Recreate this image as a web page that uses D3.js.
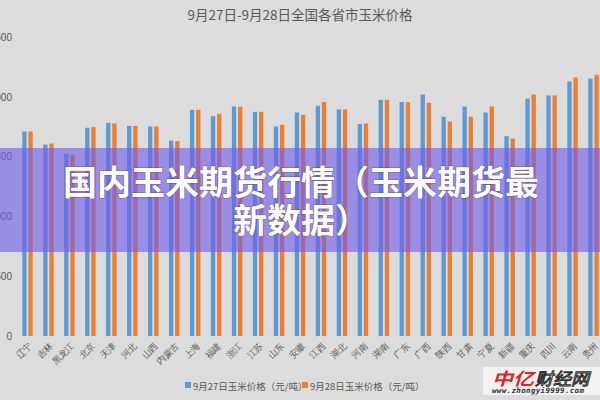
<!DOCTYPE html>
<html>
<head>
<meta charset="utf-8">
<script src="https://cdn.jsdelivr.net/npm/d3@7"></script>
<style>
  body { margin: 0; background: #dcdcdc; }
  svg { display: block; font-family: "Noto Sans CJK SC", "Noto Sans", sans-serif; }
</style>
</head>
<body>
<div id="chart"></div>
<script>
// provinces and prices (yuan / ton)
var provinces = ["辽宁", "吉林", "黑龙江", "北京", "天津", "河北", "山西", "内蒙古", "上海", "福建",
                 "浙江", "江苏", "山东", "安徽", "江西", "湖北", "河南", "湖南", "广东", "广西",
                 "陕西", "甘肃", "宁夏", "新疆", "重庆", "四川", "云南", "贵州"];
var price927 = [1710, 1600, 1523, 1741, 1782, 1757, 1752, 1634, 1891, 1838,
                1919, 1874, 1752, 1869, 1925, 1894, 1772, 1975, 1956, 2019,
                1833, 1919, 1869, 1671, 1986, 2011, 2128, 2153];
var price928 = [1710, 1609, 1515, 1746, 1777, 1757, 1752, 1629, 1891, 1858,
                1916, 1874, 1766, 1849, 1956, 1894, 1777, 1975, 1956, 1950,
                1793, 1833, 1919, 1651, 2019, 2011, 2162, 2184];
var seriesNames = ["9月27日玉米价格（元/吨）", "9月28日玉米价格（元/吨）"];
var seriesColors = ["#5b9bd5", "#ed7d31"];
var yTicks = [0, 500, 1000, 1500, 2000, 2500];

var W = 600, H = 400;
var svg = d3.select("#chart").append("svg")
    .attr("width", W)
    .attr("height", H);

svg.append("rect").attr("width", W).attr("height", H).attr("fill", "#dcdcdc");

// title
svg.append("text")
    .attr("x", 300).attr("y", 20)
    .attr("text-anchor", "middle")
    .attr("font-size", "13.5px")
    .attr("fill", "#595959")
    .text("9月27日-9月28日全国各省市玉米价格");

var x0 = d3.scaleBand().domain(provinces).range([17, 604]).paddingInner(0.5).paddingOuter(0.25);
var x1 = d3.scaleBand().domain([0, 1]).range([0, x0.bandwidth()]).paddingInner(0.3);
var y = d3.scaleLinear().domain([0, 2500]).range([336, 37]);

// y axis labels (no line, no grid)
var yAxis = d3.axisLeft(y).tickValues(yTicks).tickSize(0).tickPadding(0);
var gy = svg.append("g").attr("transform", "translate(12,0)").call(yAxis);
gy.select(".domain").remove();
gy.selectAll("text").attr("font-size", "10px").attr("fill", "#595959")
    .attr("font-family", "'Liberation Sans', sans-serif");

// bars
var rows = provinces.map(function (p, i) { return { name: p, vals: [price927[i], price928[i]] }; });
var groups = svg.selectAll("g.grp")
    .data(rows)
    .enter()
    .append("g")
    .attr("class", "grp")
    .attr("transform", function (d) { return "translate(" + x0(d.name) + ",0)"; });

groups.selectAll("rect")
    .data(function (d) { return d.vals; })
    .enter()
    .append("rect")
    .attr("x", function (d, i) { return x1(i); })
    .attr("y", function (d) { return y(d); })
    .attr("width", x1.bandwidth())
    .attr("height", function (d) { return y(0) - y(d); })
    .attr("fill", function (d, i) { return seriesColors[i]; });

// x labels, rotated
var xAxis = d3.axisBottom(x0).tickSize(0).tickPadding(0);
var gx = svg.append("g").attr("transform", "translate(3,344)").call(xAxis);
gx.select(".domain").remove();
gx.selectAll("text")
    .attr("font-size", "9px")
    .attr("fill", "#595959")
    .attr("text-anchor", "end")
    .attr("dy", "0.35em")
    .attr("transform", "rotate(-45)");

// legend
var legend = svg.append("g").attr("transform", "translate(185,386)");
var lg = legend.selectAll("g")
    .data(seriesNames)
    .enter()
    .append("g")
    .attr("transform", function (d, i) { return "translate(" + (i * 117) + ",0)"; });
lg.append("rect")
    .attr("x", 0).attr("y", -4)
    .attr("width", 6).attr("height", 6)
    .attr("fill", function (d, i) { return seriesColors[i]; });
lg.append("text")
    .attr("x", 8).attr("y", 3.5)
    .attr("font-size", "9.5px")
    .attr("fill", "#595959")
    .text(function (d) { return d; });

// banner overlay
svg.append("rect")
    .attr("x", 0).attr("y", 148)
    .attr("width", W).attr("height", 104)
    .attr("fill", "rgba(112, 92, 232, 0.62)");

var bannerLines = ["国内玉米期货行情（玉米期货最", "新数据）"];
svg.selectAll("text.banner")
    .data(bannerLines)
    .enter()
    .append("text")
    .attr("class", "banner")
    .attr("x", 301)
    .attr("y", function (d, i) { return 195 + i * 38; })
    .attr("text-anchor", "middle")
    .attr("font-size", "34px")
    .attr("font-weight", "bold")
    .attr("fill", "#ffffff")
    .attr("stroke", "rgba(60,40,90,0.4)")
    .attr("stroke-width", 1.2)
    .attr("paint-order", "stroke")
    .text(function (d) { return d; });

// watermark
var wm = svg.append("g");
wm.append("rect")
    .attr("x", 483).attr("y", 367)
    .attr("width", 117).attr("height", 28)
    .attr("fill", "#f2f2f2");
wm.append("text")
    .attr("x", 492).attr("y", 385)
    .attr("font-size", "17px")
    .attr("font-weight", "bold")
    .attr("font-style", "italic")
    .attr("fill", "#e0261f")
    .attr("textLength", 42)
    .attr("lengthAdjust", "spacingAndGlyphs")
    .text("中亿");
wm.append("text")
    .attr("x", 535).attr("y", 385)
    .attr("font-size", "17px")
    .attr("font-style", "italic")
    .attr("fill", "#ffffff")
    .attr("stroke", "#333333")
    .attr("stroke-width", 1)
    .attr("textLength", 54)
    .attr("lengthAdjust", "spacingAndGlyphs")
    .text("财经网");
wm.append("text")
    .attr("x", 492).attr("y", 393)
    .attr("font-size", "7.5px")
    .attr("font-weight", "bold")
    .attr("font-style", "italic")
    .attr("fill", "#333333")
    .attr("font-family", "'DejaVu Sans Mono', monospace")
    .attr("textLength", 92)
    .text("www.zhongyi9999.com");
</script>
</body>
</html>
